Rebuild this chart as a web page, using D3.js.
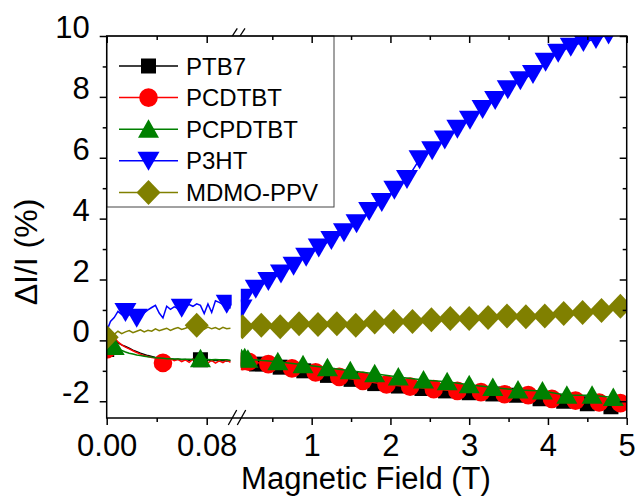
<!DOCTYPE html>
<html>
<head>
<meta charset="utf-8">
<script src="https://cdn.jsdelivr.net/npm/d3@7"></script>
<style>
  body { margin: 0; background: #fff; }
  svg { display: block; }
  text { font-family: Arial, "Liberation Sans", sans-serif; fill: #000; }
</style>
</head>
<body>
<div id="chart"></div>
<script>
// ---- data ----
// low-field scan, 0 - 0.1 T (shared field column)
var loField = [0, 0.003, 0.006, 0.009, 0.012, 0.015, 0.018, 0.021, 0.024, 0.027,
  0.030, 0.033, 0.036, 0.039, 0.042, 0.045, 0.048, 0.051, 0.054, 0.057,
  0.060, 0.063, 0.066, 0.069, 0.072, 0.075, 0.078, 0.081, 0.084, 0.087,
  0.090, 0.093, 0.096, 0.099];

var ptb7Lo = [-0.3, 0.12, 0.0, -0.08, -0.15, -0.2, -0.26, -0.32, -0.37, -0.42,
  -0.46, -0.5, -0.53, -0.56, -0.58, -0.6, -0.62, -0.6, -0.63, -0.62,
  -0.64, -0.63, -0.65, -0.62, -0.65, -0.64, -0.66, -0.64, -0.67, -0.65,
  -0.68, -0.66, -0.68, -0.67];
var pcdtbtLo = [-0.3, 0.05, 0.1, -0.05, -0.15, -0.22, -0.28, -0.34, -0.4, -0.45,
  -0.5, -0.53, -0.56, -0.58, -0.6, -0.74, -0.62, -0.6, -0.67, -0.62,
  -0.7, -0.64, -0.72, -0.62, -0.68, -0.7, -0.63, -0.74, -0.66, -0.75,
  -0.67, -0.73, -0.65, -0.72];
var pcpdtbtLo = [-0.28, -0.22, -0.2, -0.28, -0.33, -0.38, -0.42, -0.45, -0.48, -0.5,
  -0.52, -0.54, -0.55, -0.57, -0.58, -0.59, -0.6, -0.6, -0.61, -0.61,
  -0.62, -0.62, -0.62, -0.63, -0.62, -0.6, -0.63, -0.63, -0.64, -0.63,
  -0.64, -0.64, -0.64, -0.65];
var p3htLo = [0.3, 0.62, 0.75, 0.95, 0.85, 0.93, 0.85, 0.8, 0.74, 0.82,
  0.9, 1.0, 1.08, 1.15, 0.9, 0.74, 1.12, 1.02, 1.1, 1.05,
  1.07, 1.12, 1.18, 1.12, 1.2, 1.15, 0.88, 1.2, 0.92, 1.3,
  1.25, 1.18, 1.2, 1.05];
var mdmoLo = [0.1, 0.25, 0.2, 0.3, 0.22, 0.28, 0.32, 0.25, 0.3, 0.35,
  0.28, 0.33, 0.3, 0.38, 0.32, 0.36, 0.4, 0.33, 0.38, 0.42,
  0.36, 0.4, 0.45, 0.38, 0.5, 0.42, 0.37, 0.44, 0.38, 0.42,
  0.36, 0.43, 0.38, 0.4];

// which low-field points carry a symbol
var ptb7MarkLo = [0, 25];
var pcdtbtMarkLo = [0, 15];
var pcpdtbtMarkLo = [2, 25];
var p3htMarkLo = [5, 8, 20, 32];
var mdmoMarkLo = [0, 24];

// high-field scan, 0.1 - 5 T
var ptb7FieldHi = [0.12, 0.3, 0.6, 0.9, 1.2, 1.5, 1.8, 2.1, 2.4, 2.7, 3.0, 3.3, 3.6, 3.9, 4.2, 4.5, 4.8];
var ptb7Hi = [-0.66, -0.78, -0.88, -1.0, -1.15, -1.28, -1.42, -1.5, -1.58, -1.66, -1.72, -1.76, -1.8, -1.92, -2.0, -2.08, -2.18];

var pcdtbtFieldHi = [0.12, 0.2, 0.45, 0.75, 1.05, 1.35, 1.65, 1.95, 2.25, 2.55, 2.85, 3.15, 3.45, 3.75, 4.05, 4.35, 4.65, 4.92];
var pcdtbtHi = [-0.68, -0.7, -0.78, -0.92, -1.05, -1.2, -1.33, -1.45, -1.52, -1.6, -1.66, -1.7, -1.77, -1.8, -1.92, -1.98, -2.04, -2.06];

var pcpdtbtFieldHi = [0.11, 0.15, 0.19, 0.57, 0.89, 1.2, 1.49, 1.8, 2.1, 2.42, 2.72, 3.0, 3.3, 3.62, 3.93, 4.24, 4.56, 4.83];
var pcpdtbtHi = [-0.6, -0.57, -0.62, -0.7, -0.8, -0.9, -1.0, -1.1, -1.2, -1.3, -1.36, -1.46, -1.55, -1.63, -1.66, -1.8, -1.8, -1.88];

var p3htFieldHi = [0.11, 0.14, 0.29, 0.45, 0.61, 0.77, 0.93, 1.09, 1.25, 1.41, 1.57, 1.73, 1.89, 2.05, 2.21, 2.37,
  2.53, 2.69, 2.85, 3.01, 3.17, 3.33, 3.49, 3.65, 3.81, 3.97, 4.13, 4.29, 4.45, 4.61, 4.77, 4.93];
var p3htHi = [1.05, 1.4, 1.7, 1.95, 2.2, 2.45, 2.75, 3.05, 3.3, 3.55, 3.85, 4.25, 4.55, 4.95, 5.3, 5.95,
  6.25, 6.6, 6.95, 7.25, 7.6, 7.9, 8.25, 8.55, 8.75, 9.15, 9.45, 9.65, 9.8, 9.9, 10.05, 10.4];

var mdmoFieldHi = [0.12, 0.36, 0.60, 0.84, 1.08, 1.32, 1.56, 1.80, 2.04, 2.28, 2.52, 2.76, 3.00, 3.24, 3.48, 3.72, 3.96, 4.20, 4.44, 4.68, 4.92];
var mdmoHi = [0.45, 0.5, 0.45, 0.55, 0.52, 0.55, 0.5, 0.6, 0.62, 0.62, 0.68, 0.72, 0.72, 0.75, 0.8, 0.78, 0.8, 0.88, 0.92, 0.98, 1.12];

var seriesNames = ["PTB7", "PCDTBT", "PCPDTBT", "P3HT", "MDMO-PPV"];

// tick values
var loMajor = [0, 0.08], loMinor = [0.04];
var hiMajor = [1, 2, 3, 4, 5], hiMinor = [0.5, 1.5, 2.5, 3.5, 4.5];
var yMajor = [-2, 0, 2, 4, 6, 8, 10], yMinor = [-1, 1, 3, 5, 7, 9];

// ---- layout ----
var width = 637, height = 496;
var plotL = 106.7, plotR = 626.7, plotT = 36, plotB = 418;
var loEnd = 231.7, hiStart = 240.8;

var xLo = d3.scaleLinear().domain([0, 0.1]).range([plotL, loEnd]);
var xHi = d3.scaleLinear().domain([0.1, 5]).range([hiStart, plotR]);
var y = d3.scaleLinear().domain([-2.55, 10]).range([plotB, plotT]);

var svg = d3.select("#chart").append("svg")
    .attr("width", width)
    .attr("height", height);

var defs = svg.append("defs");
defs.append("clipPath").attr("id", "clipLo").append("rect")
    .attr("x", plotL).attr("y", plotT).attr("width", loEnd - plotL).attr("height", plotB - plotT);
defs.append("clipPath").attr("id", "clipHi").append("rect")
    .attr("x", hiStart).attr("y", plotT).attr("width", plotR - hiStart).attr("height", plotB - plotT);

// symbol shapes
function shapePath(shape) {
    if (shape === "square") return "M-7.5,-7.5H7.5V7.5H-7.5Z";
    if (shape === "circle") return "M9.3,0A9.3,9.3 0 1,1 -9.3,0A9.3,9.3 0 1,1 9.3,0Z";
    if (shape === "up") return "M0,-10L10.5,8.5L-10.5,8.5Z";
    if (shape === "down") return "M0,10L11,-9L-11,-9Z";
    if (shape === "diamond") return "M0,-12.5L12,0L0,12.5L-12,0Z";
}

var series = [
    { name: seriesNames[0], color: "#000000", shape: "square", lo: ptb7Lo, loMarks: ptb7MarkLo, hiField: ptb7FieldHi, hi: ptb7Hi },
    { name: seriesNames[1], color: "#ff0000", shape: "circle", lo: pcdtbtLo, loMarks: pcdtbtMarkLo, hiField: pcdtbtFieldHi, hi: pcdtbtHi },
    { name: seriesNames[2], color: "#008000", shape: "up", lo: pcpdtbtLo, loMarks: pcpdtbtMarkLo, hiField: pcpdtbtFieldHi, hi: pcpdtbtHi },
    { name: seriesNames[3], color: "#0000ff", shape: "down", lo: p3htLo, loMarks: p3htMarkLo, hiField: p3htFieldHi, hi: p3htHi },
    { name: seriesNames[4], color: "#808000", shape: "diamond", lo: mdmoLo, loMarks: mdmoMarkLo, hiField: mdmoFieldHi, hi: mdmoHi }
];

var gLo = svg.append("g").attr("clip-path", "url(#clipLo)");
var gHi = svg.append("g").attr("clip-path", "url(#clipHi)");

var lineLo = d3.line().x(function (d) { return xLo(d[0]); }).y(function (d) { return y(d[1]); });
var lineHi = d3.line().x(function (d) { return xHi(d[0]); }).y(function (d) { return y(d[1]); });

series.forEach(function (s) {
    var lo = loField.map(function (f, i) { return [f, s.lo[i]]; });
    var hi = s.hiField.map(function (f, i) { return [f, s.hi[i]]; });

    gLo.append("path").datum(lo)
        .attr("d", lineLo)
        .attr("fill", "none")
        .attr("stroke", s.color)
        .attr("stroke-width", 1.5);
    gLo.selectAll(null).data(s.loMarks.map(function (i) { return lo[i]; }))
        .enter().append("path")
        .attr("d", shapePath(s.shape))
        .attr("transform", function (d) { return "translate(" + xLo(d[0]) + "," + y(d[1]) + ")"; })
        .attr("fill", s.color);

    gHi.append("path").datum(hi)
        .attr("d", lineHi)
        .attr("fill", "none")
        .attr("stroke", s.color)
        .attr("stroke-width", 1.5);
    gHi.selectAll(null).data(hi)
        .enter().append("path")
        .attr("d", shapePath(s.shape))
        .attr("transform", function (d) { return "translate(" + xHi(d[0]) + "," + y(d[1]) + ")"; })
        .attr("fill", s.color);
});

// legend
var legend = svg.append("g");
legend.append("rect")
    .attr("x", plotL).attr("y", plotT)
    .attr("width", 334 - plotL).attr("height", 207 - plotT)
    .attr("fill", "#fff")
    .attr("stroke", "#444")
    .attr("stroke-width", 1);
series.forEach(function (s, i) {
    var ly = 66 + i * 31.6;
    legend.append("line")
        .attr("x1", 119).attr("x2", 178).attr("y1", ly).attr("y2", ly)
        .attr("stroke", s.color).attr("stroke-width", 1.5);
    legend.append("path")
        .attr("d", shapePath(s.shape))
        .attr("transform", "translate(148.5," + ly + ")")
        .attr("fill", s.color);
    legend.append("text")
        .attr("x", 186).attr("y", ly + 8.5)
        .style("font-size", "24px")
        .text(s.name);
});

// axes
var plainInt = function (d) { return String(d); };   // hyphen minus, as in the figure

function drawAxis(axis, transform, fontSize) {
    var g = svg.append("g").attr("transform", transform).call(axis);
    g.attr("font-family", null).attr("font-size", null);
    g.select(".domain").remove();
    g.selectAll(".tick line").attr("stroke", "#000").attr("stroke-width", 1.5);
    g.selectAll(".tick text").attr("fill", "#000").style("font-size", fontSize || "31px");
    return g;
}

var xAxisB = "translate(0," + plotB + ")", xAxisT = "translate(0," + plotT + ")";
drawAxis(d3.axisBottom(xLo).tickValues(loMajor).tickFormat(d3.format(".2f")).tickSize(7).tickPadding(9), xAxisB);
drawAxis(d3.axisBottom(xLo).tickValues(loMinor).tickFormat("").tickSize(4), xAxisB);
drawAxis(d3.axisBottom(xHi).tickValues(hiMajor).tickFormat(plainInt).tickSize(7).tickPadding(9), xAxisB);
drawAxis(d3.axisBottom(xHi).tickValues(hiMinor).tickFormat("").tickSize(4), xAxisB);

drawAxis(d3.axisTop(xLo).tickValues(loMajor).tickFormat("").tickSize(-7), xAxisT);
drawAxis(d3.axisTop(xLo).tickValues(loMinor).tickFormat("").tickSize(-4), xAxisT);
drawAxis(d3.axisTop(xHi).tickValues(hiMajor).tickFormat("").tickSize(-7), xAxisT);
drawAxis(d3.axisTop(xHi).tickValues(hiMinor).tickFormat("").tickSize(-4), xAxisT);

var yAxisG = drawAxis(d3.axisLeft(y).tickValues(yMajor).tickFormat(plainInt).tickSize(7).tickPadding(10), "translate(" + plotL + ",0)");
yAxisG.selectAll(".tick text").attr("dy", "0.05em");
drawAxis(d3.axisLeft(y).tickValues(yMinor).tickFormat("").tickSize(4), "translate(" + plotL + ",0)");
drawAxis(d3.axisRight(y).tickValues(yMajor).tickFormat("").tickSize(-7), "translate(" + plotR + ",0)");
drawAxis(d3.axisRight(y).tickValues(yMinor).tickFormat("").tickSize(-4), "translate(" + plotR + ",0)");

// frame
svg.append("path")
    .attr("d", "M" + plotL + "," + plotT + "H" + plotR + "V" + plotB + "H" + plotL + "Z")
    .attr("fill", "none")
    .attr("stroke", "#000")
    .attr("stroke-width", 1.5);

// axis break marks
var brk = svg.append("g").attr("stroke", "#000").attr("stroke-width", 1.3);
brk.append("line").attr("x1", 232.3).attr("y1", 36).attr("x2", 237.3).attr("y2", 28.3);
brk.append("line").attr("x1", 240).attr("y1", 36).attr("x2", 245).attr("y2", 28.3);
brk.append("line").attr("x1", 228.3).attr("y1", 425).attr("x2", 236.7).attr("y2", 410);
brk.append("line").attr("x1", 237.3).attr("y1", 425).attr("x2", 245.7).attr("y2", 410);

// axis titles
svg.append("text")
    .attr("x", 366).attr("y", 489)
    .attr("text-anchor", "middle")
    .style("font-size", "31px")
    .text("Magnetic Field (T)");

svg.append("text")
    .attr("transform", "translate(37,252) rotate(-90)")
    .attr("text-anchor", "middle")
    .style("font-size", "32px")
    .text("ΔI/I (%)");
</script>
</body>
</html>
